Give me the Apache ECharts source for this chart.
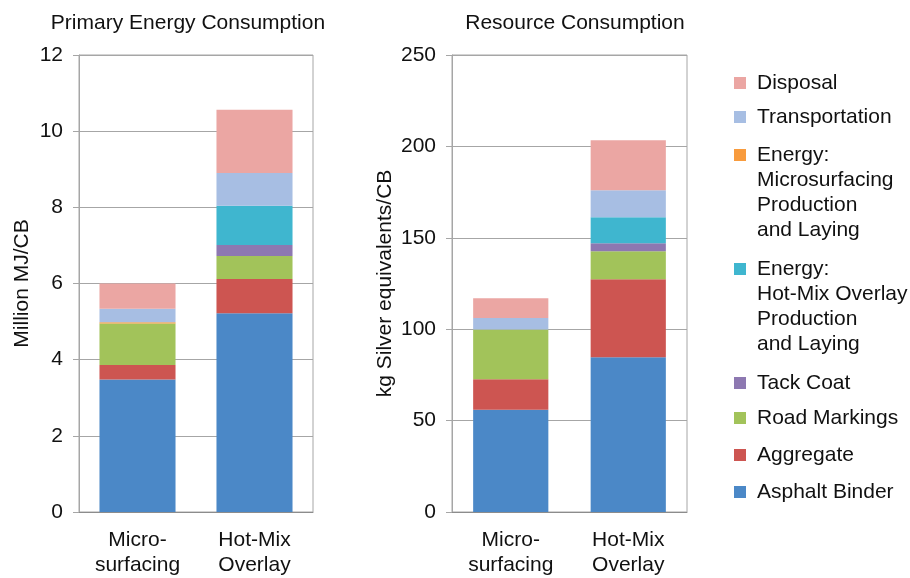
<!DOCTYPE html>
<html>
<head>
<meta charset="utf-8">
<title>Primary Energy and Resource Consumption</title>
<script src="https://cdn.jsdelivr.net/npm/echarts@6/dist/echarts.min.js"></script>
<style>
  html, body { margin: 0; padding: 0; background: #fff; }
  #chart { width: 910px; height: 578px; }
</style>
</head>
<body>
<div id="chart"></div>
<script>
var categories = ['Micro-\nsurfacing', 'Hot-Mix\nOverlay'];

// stacking order, bottom to top
var seriesNames = [
    'Asphalt Binder',
    'Aggregate',
    'Road Markings',
    'Tack Coat',
    'Energy:\nHot-Mix Overlay\nProduction\nand Laying',
    'Energy:\nMicrosurfacing\nProduction\nand Laying',
    'Transportation',
    'Disposal'
];
var seriesColors = ['#4b88c7', '#cd5551', '#a2c35a', '#8d78b1', '#3fb6cf', '#f89b3d', '#a7bee3', '#eba6a3'];

// Million MJ/CB, one value per series (same order as seriesNames)
var energyMicro = [3.48, 0.38, 1.09, 0, 0, 0.03, 0.36, 0.66];
var energyHotMix = [5.22, 0.90, 0.60, 0.29, 1.03, 0, 0.86, 1.66];

// kg Silver equivalents/CB
var resourceMicro = [56, 16.6, 27.3, 0, 0, 0, 6.2, 10.8];
var resourceHotMix = [84.6, 42.7, 15.3, 4.4, 14.2, 0, 14.8, 27.3];

var energyAxis = [0, 12, 2];     // min, max, interval
var resourceAxis = [0, 250, 50];

var font = 'Liberation Sans, Arial, Helvetica, sans-serif';
var textColor = '#111';
var gridColor = '#a6a6a6';

var chart = echarts.init(document.getElementById('chart'));

function xAxis(gridIndex) {
    return {
        type: 'category',
        gridIndex: gridIndex,
        data: categories,
        axisLine: { lineStyle: { color: '#8c8c8c', width: 1 } },
        axisTick: { show: false },
        axisLabel: {
            color: textColor, fontSize: 21, fontFamily: font,
            lineHeight: 25, margin: 16, interval: 0
        }
    };
}

function yAxis(gridIndex, name, range, nameGap) {
    return {
        type: 'value',
        gridIndex: gridIndex,
        min: range[0],
        max: range[1],
        interval: range[2],
        name: name,
        nameLocation: 'middle',
        nameGap: nameGap,
        nameTextStyle: { color: textColor, fontSize: 21, fontFamily: font },
        axisLine: { show: true, lineStyle: { color: gridColor } },
        axisTick: { show: true, length: 6, lineStyle: { color: gridColor } },
        axisLabel: { color: textColor, fontSize: 21, fontFamily: font, margin: 16 },
        splitLine: { lineStyle: { color: gridColor } }
    };
}

var series = [];
seriesNames.forEach(function (name, i) {
    series.push({
        name: name, type: 'bar', stack: 'energy',
        xAxisIndex: 0, yAxisIndex: 0, barWidth: '65%',
        itemStyle: { color: seriesColors[i] },
        data: [energyMicro[i], energyHotMix[i]]
    });
    series.push({
        name: name, type: 'bar', stack: 'resource',
        xAxisIndex: 1, yAxisIndex: 1, barWidth: '64%',
        itemStyle: { color: seriesColors[i] },
        data: [resourceMicro[i], resourceHotMix[i]]
    });
});

// one legend per entry; blank lines in front of multi-line names
// keep the icon level with the first line of text
var legendCentres = [83, 117, 155, 269, 383, 418, 455, 492];
var legends = [];
seriesNames.slice().reverse().forEach(function (name, i) {
    var extraLines = name.split('\n').length - 1;
    var pad = new Array(extraLines + 1).join('\n');
    legends.push({
        data: [name],
        left: 734,
        top: legendCentres[i] - 12.5 - extraLines * 25,
        padding: 0,
        icon: 'rect',
        itemWidth: 12,
        itemHeight: 12,
        formatter: function (n) { return pad + n; },
        textStyle: {
            color: textColor, fontSize: 21, fontFamily: font,
            lineHeight: 25, padding: [0, 0, 0, 6]
        }
    });
});

var option = {
    animation: false,
    title: [
        {
            text: 'Primary Energy Consumption', left: 188, top: 13, padding: 0,
            textAlign: 'center',
            textStyle: { color: textColor, fontSize: 21, fontWeight: 'normal', fontFamily: font }
        },
        {
            text: 'Resource Consumption', left: 575, top: 13, padding: 0,
            textAlign: 'center',
            textStyle: { color: textColor, fontSize: 21, fontWeight: 'normal', fontFamily: font }
        }
    ],
    tooltip: { trigger: 'axis', axisPointer: { type: 'shadow' } },
    legend: legends,
    grid: [
        { left: 79, right: 597, top: 55, bottom: 66, show: true, borderColor: gridColor, borderWidth: 1, outerBoundsMode: 'none' },
        { left: 452, right: 223, top: 55, bottom: 66, show: true, borderColor: gridColor, borderWidth: 1, outerBoundsMode: 'none' }
    ],
    xAxis: [xAxis(0), xAxis(1)],
    yAxis: [
        yAxis(0, 'Million MJ/CB', energyAxis, 46),
        yAxis(1, 'kg Silver equivalents/CB', resourceAxis, 56)
    ],
    series: series
};

chart.setOption(option);
window.addEventListener('resize', chart.resize);
</script>
</body>
</html>
